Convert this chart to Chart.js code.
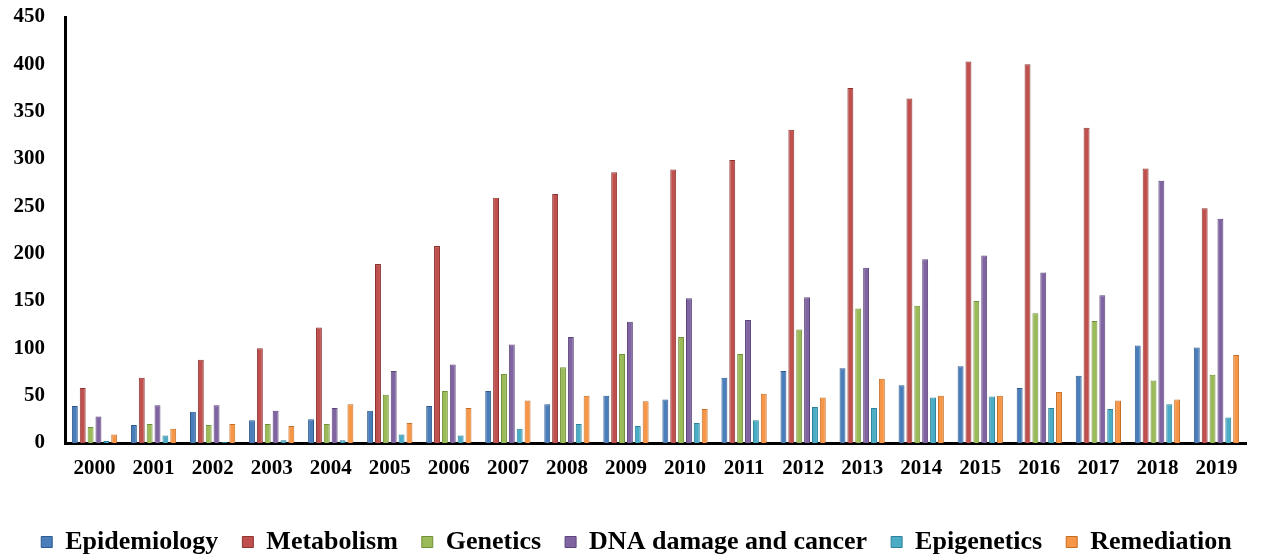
<!DOCTYPE html>
<html>
<head>
<meta charset="utf-8">
<script src="https://cdn.jsdelivr.net/npm/chart.js@4"></script>
<style>
body { margin: 0; background: #fff; }
</style>
</head>
<body>
<canvas id="chart" width="1262" height="554"></canvas>
<script>
var years = ['2000','2001','2002','2003','2004','2005','2006','2007','2008','2009','2010','2011','2012','2013','2014','2015','2016','2017','2018','2019'];
var epidemiology = [39,19,33,24,25,34,39,55,41,50,46,69,76,79,61,81,58,71,103,101];
var metabolism = [58,69,88,100,122,189,208,259,263,286,289,299,331,375,364,403,400,333,290,248];
var genetics = [17,20,19,20,20,51,55,73,80,94,112,94,120,142,145,150,137,129,66,72];
var dnaDamage = [28,40,40,34,37,76,83,104,112,128,153,130,154,185,194,198,180,156,277,237];
var epigenetics = [2,8,1,3,3,9,8,15,20,18,21,24,38,37,48,49,37,36,41,27];
var remediation = [9,15,20,18,41,21,37,45,50,44,36,52,48,68,50,50,54,45,46,93];
var yTicks = [0,50,100,150,200,250,300,350,400,450];

var serif = '"Liberation Serif", "Times New Roman", serif';

function series(label, values, fill, edge) {
  return {
    label: label,
    data: values,
    backgroundColor: fill,
    borderColor: edge,
    borderWidth: 1,
    categoryPercentage: 0.8,
    barPercentage: 0.75
  };
}

// nudge the legend row down and right, as in the original figure
var legendShift = {
  id: 'legendShift',
  afterLayout: function (c) {
    c.legend.top += 11;
    c.legend.bottom += 11;
    c.legend.left += 11;
    c.legend.right += 11;
  }
};

var context = document.getElementById('chart').getContext('2d');
var chart = new Chart(context, {
  type: 'bar',
  data: {
    labels: years,
    datasets: [
      series('Epidemiology', epidemiology, '#4a7ebb', '#2f5a8f'),
      series('Metabolism', metabolism, '#c0504d', '#8c3431'),
      series('Genetics', genetics, '#9bbb59', '#71903a'),
      series('DNA damage and cancer', dnaDamage, '#8064a2', '#5b4479'),
      series('Epigenetics', epigenetics, '#4bacc6', '#2f8199'),
      series('Remediation', remediation, '#f79646', '#c56e26')
    ]
  },
  plugins: [legendShift],
  options: {
    responsive: false,
    animation: false,
    layout: { padding: { left: 5, right: 16, top: 17, bottom: 0 } },
    plugins: {
      tooltip: { enabled: false },
      legend: {
        position: 'bottom',
        labels: {
          color: '#000',
          boxWidth: 11,
          boxHeight: 11,
          padding: 24,
          font: { family: serif, size: 26, weight: 'bold' }
        }
      }
    },
    scales: {
      x: {
        grid: { display: false, drawTicks: false },
        border: { display: true, color: '#000', width: 3 },
        ticks: {
          color: '#000',
          padding: 13,
          maxRotation: 0,
          font: { family: serif, size: 21, weight: 'bold' }
        },
        afterFit: function (scale) { scale.height = 51; }
      },
      y: {
        min: 0,
        max: 450,
        grid: { display: false, drawTicks: false },
        border: { display: true, color: '#000', width: 3 },
        ticks: {
          color: '#000',
          padding: 20,
          font: { family: serif, size: 21, weight: 'bold' }
        },
        afterBuildTicks: function (scale) {
          scale.ticks = yTicks.map(function (v) { return { value: v }; });
        },
        afterFit: function (scale) {
          scale.width = 60;
          scale.paddingTop = 0;
          scale.paddingBottom = 0;
        }
      }
    }
  }
});
</script>
</body>
</html>
